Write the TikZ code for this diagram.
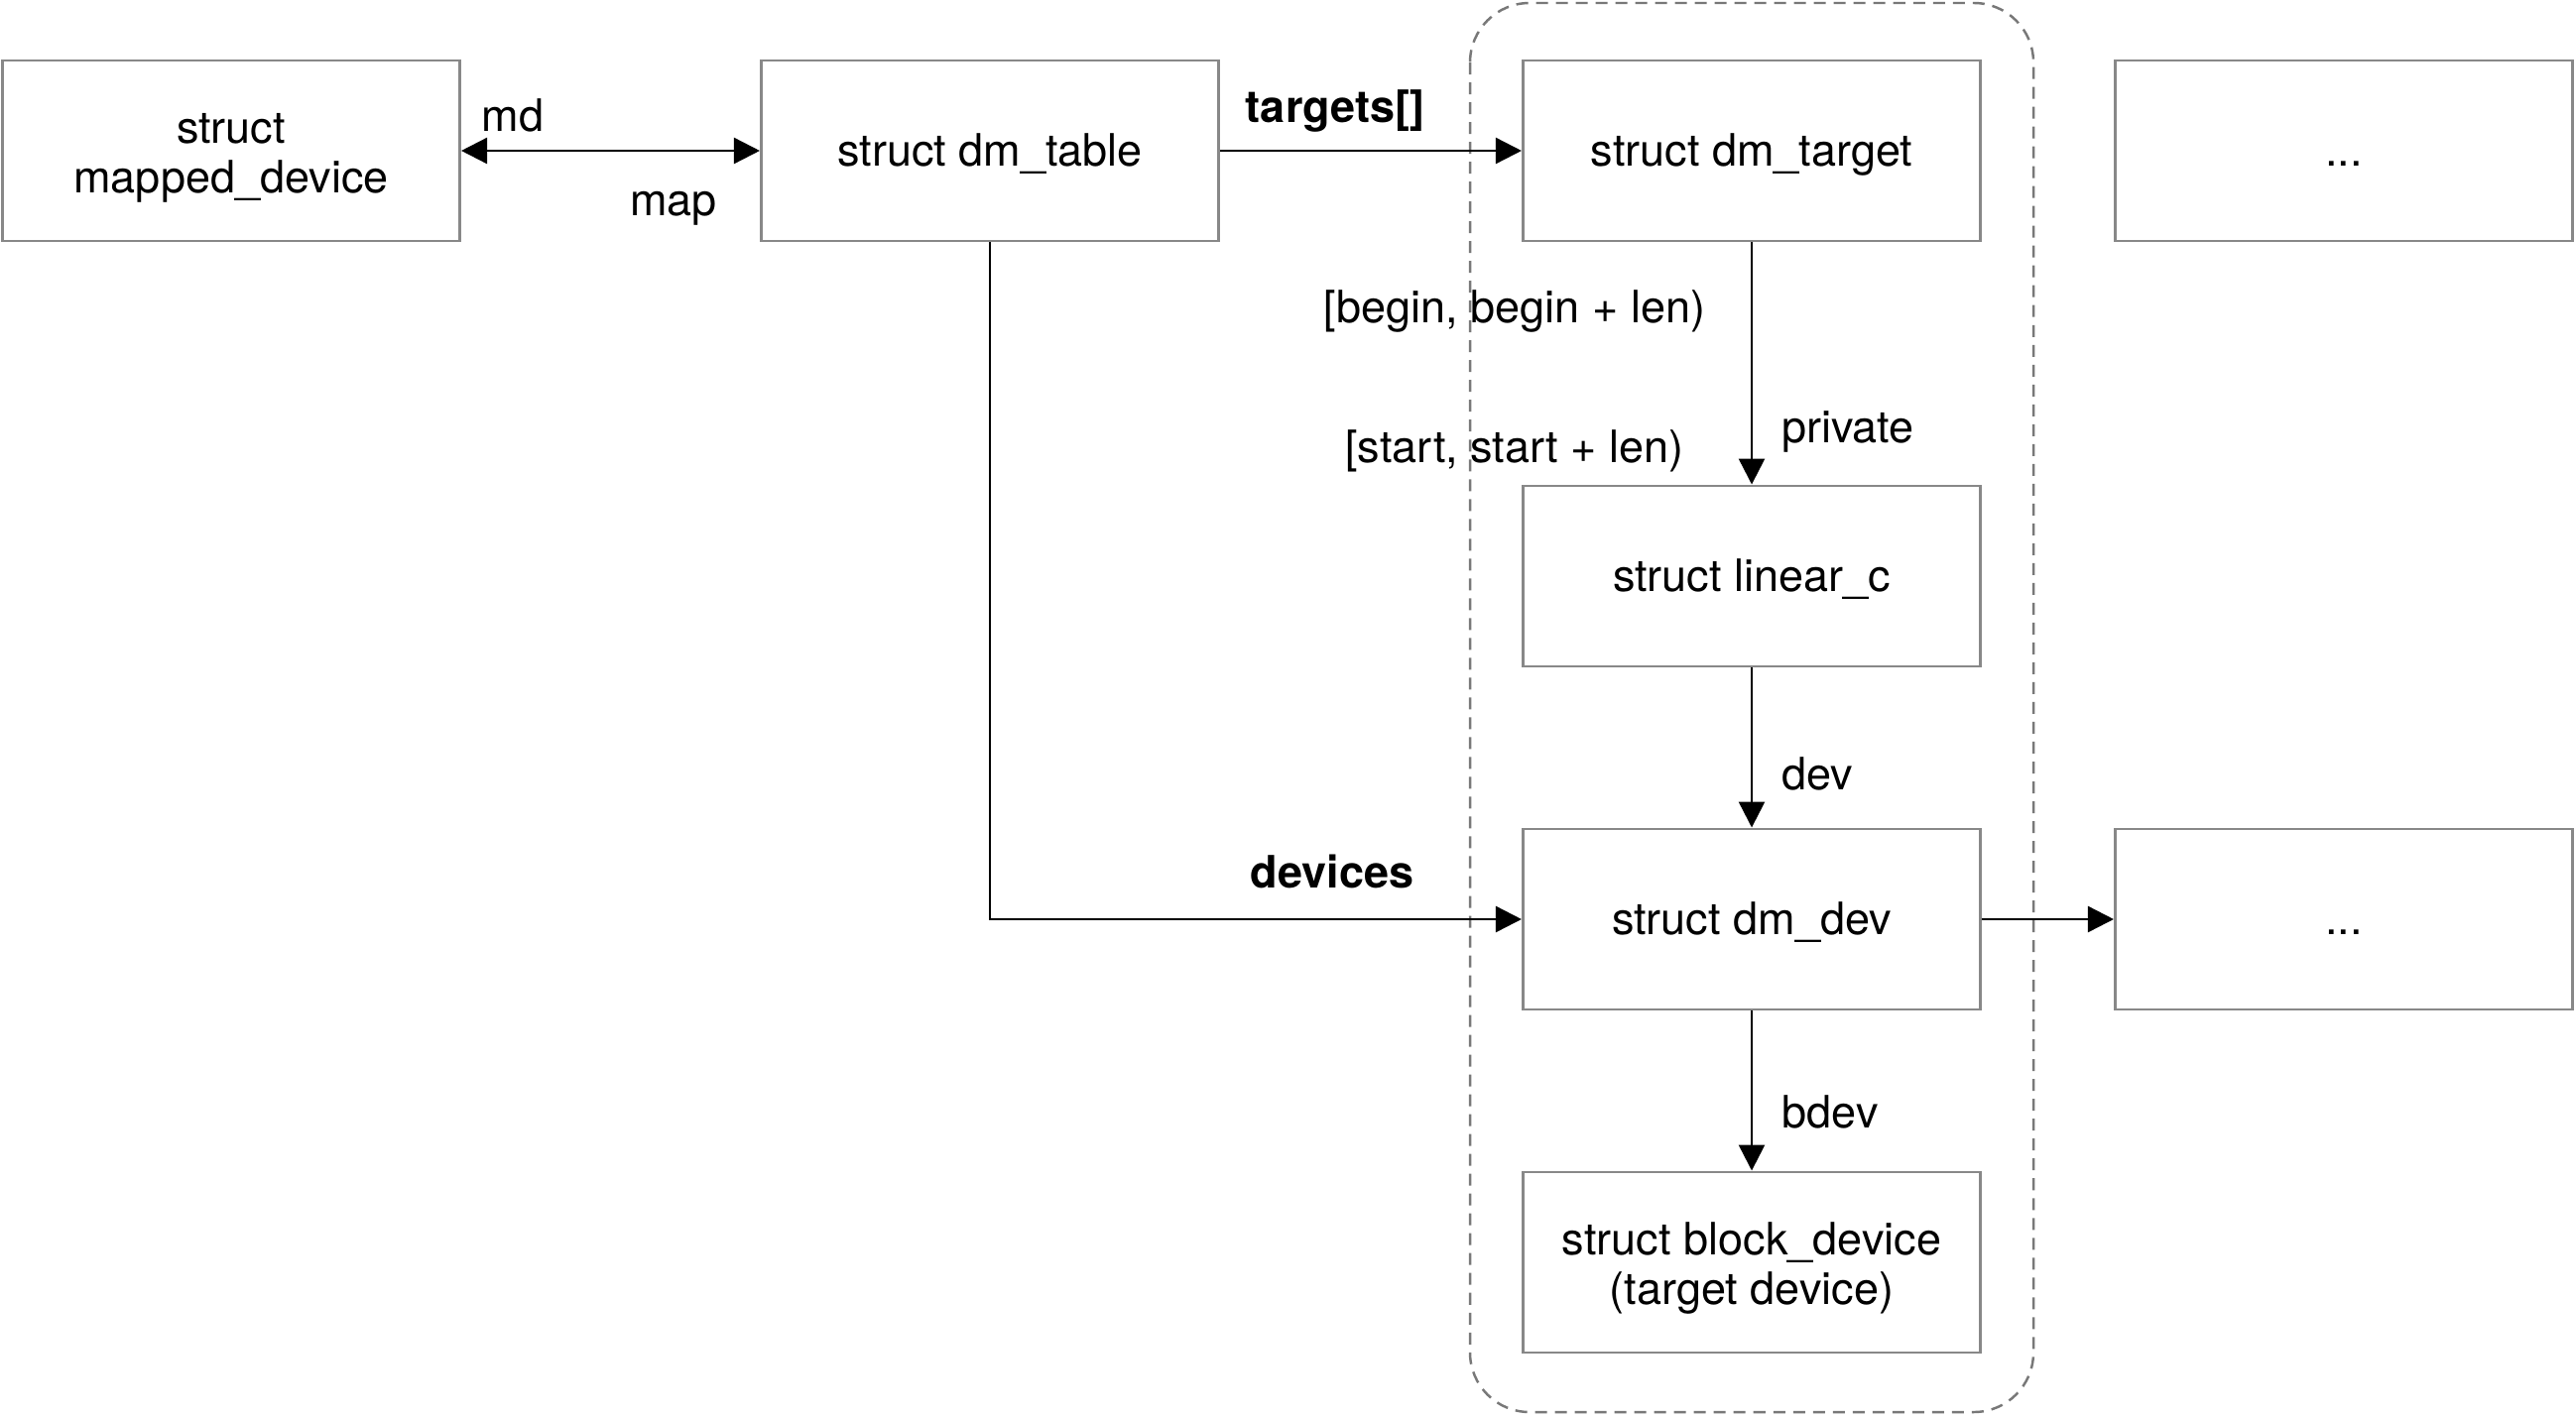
\documentclass[tikz,border=0pt]{standalone}
\usepackage{fontspec}
\setmainfont{TeX Gyre Heros}
\usepackage{tikz}
\usetikzlibrary{arrows.meta, positioning, calc}
\definecolor{boxgray}{RGB}{136,136,136}
\definecolor{groupgray}{RGB}{120,120,120}

\begin{document}
\begin{tikzpicture}[x=0.01cm, y=-0.01cm,
  >={Triangle[length=0.26cm, width=0.26cm]},
  structbox/.style={draw=boxgray, line width=0.8pt, minimum width=4.61cm, minimum height=1.82cm, align=center, inner sep=0pt, text height=10.8pt, text depth=2pt, font=\fontsize{12.8}{14.2}\selectfont},
  twoline/.style={text height=26.4pt},
  ptr/.style={line width=0.7pt, ->},
  lbl/.style={font=\fontsize{12.8}{14.2}\selectfont, inner sep=0pt, text height=10.5pt, text depth=2.3pt},
  boldlbl/.style={lbl, font=\fontsize{12.8}{14.2}\selectfont\bfseries}]
\useasboundingbox (0,0) rectangle (2597,1430);

% group of per-target structs
\draw[groupgray, line width=0.7pt, dash pattern=on 0.12cm off 0.08cm, rounded corners=0.6cm] (1482,3) rectangle (2050,1424);

% top row
\node[structbox, twoline] (md) at (233,152) {struct\\mapped\_device};
\node[structbox] (tbl) at (998,152) {struct dm\_table};
\node[structbox] (tgt) at (1766,152) {struct dm\_target};
\node[structbox] (more1) at (2363,152) {...};

% target chain
\node[structbox] (lc) at (1766,581) {struct linear\_c};
\node[structbox] (dev) at (1766,927) {struct dm\_dev};
\node[structbox] (more2) at (2363,927) {...};
\node[structbox, twoline] (bdev) at (1766,1273) {struct block\_device\\(target device)};

% pointers
\draw[ptr, <->] (md) -- (tbl);
\draw[ptr] (tbl) -- (tgt);
\draw[ptr] (tbl.south) |- (dev.west);
\draw[ptr] (tgt) -- (lc);
\draw[ptr] (lc) -- (dev);
\draw[ptr] (dev) -- (more2);
\draw[ptr] (dev) -- (bdev);

% labels
\node[lbl] (mdlbl) at (517,118) {md};
\node[lbl] (maplbl) at (679,203) {map};
\node[boldlbl] (tgtlbl) at (1346,109) {targets[]};
\node[boldlbl] (devslbl) at (1343,881) {devices};
\node[lbl] (beginlbl) at (1527,311) {[begin, begin + len)};
\node[lbl] (privlbl) at (1863,432) {private};
\node[lbl] (startlbl) at (1527,452) {[start, start + len)};
\node[lbl] (devlbl) at (1832,782) {dev};
\node[lbl] (bdevlbl) at (1845,1123) {bdev};
\end{tikzpicture}
\end{document}
